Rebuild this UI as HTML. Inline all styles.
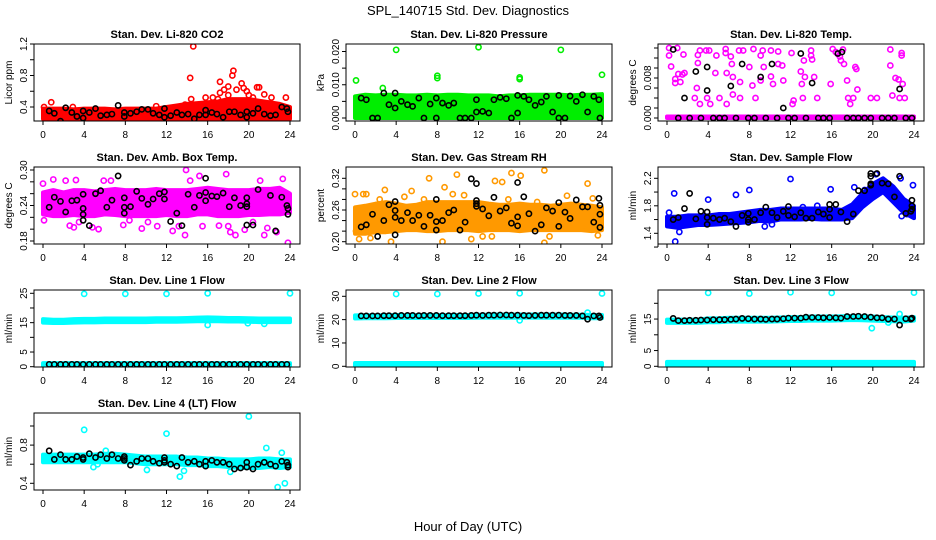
<!DOCTYPE html>
<html><head><meta charset="utf-8">
<style>
body{margin:0;background:#fff;}
svg{display:block;font-family:"Liberation Sans",sans-serif;}
</style></head>
<body>
<svg id="chart" width="936" height="540" viewBox="0 0 936 540">
<rect x="0" y="0" width="936" height="540" fill="#fff"/>
<text x="468" y="15" text-anchor="middle" font-size="13">SPL_140715  Std. Dev. Diagnostics</text>
<text x="468" y="531" text-anchor="middle" font-size="13">Hour of Day (UTC)</text>
</svg>
<script>
// ---- data ----
const hours = [0,1,2,3,4,5,6,7,8,9,10,11,12,13,14,15,16,17,18,19,20,21,22,23,24];
const xTicks = [0,4,8,12,16,20,24];

const co2Lo = [0.25,0.25,0.25,0.25,0.25,0.25,0.25,0.25,0.25,0.25,0.25,0.25,0.25,0.25,0.25,0.25,0.25,0.25,0.25,0.25,0.25,0.25,0.25,0.25,0.25];
const co2Hi = [0.38,0.38,0.38,0.37,0.38,0.38,0.38,0.37,0.38,0.38,0.38,0.38,0.4,0.42,0.44,0.45,0.46,0.47,0.5,0.5,0.5,0.48,0.46,0.44,0.4];
const co2Pts = [[14.3,0.77],[14.6,1.17],[14.4,0.5],[15.8,0.52],[17.2,0.72],[17.2,0.58],[17.6,0.62],[18,0.66],[18.4,0.8],[18.5,0.86],[18.8,0.62],[19.3,0.7],[19.5,0.64],[20,0.55],[20.8,0.65],[21,0.65],[21.5,0.56],[22.2,0.52],[23.6,0.52],[0.8,0.46],[16.5,0.52],[19.8,0.6],[18,0.55],[17,0.5],[20.4,0.52],[0.1,0.4],[2.9,0.4],[7.9,0.2],[11,0.41],[13.8,0.43]];
const co2Black = [[0.6,0.35],[1.1,0.32],[1.7,0.22],[2.2,0.39],[2.8,0.33],[3.3,0.28],[3.9,0.35],[3.9,0.26],[4.5,0.33],[5.1,0.38],[5.6,0.29],[6.2,0.3],[6.7,0.31],[7.3,0.42],[7.9,0.33],[7.9,0.28],[8.5,0.32],[9.1,0.34],[9.6,0.37],[10.2,0.37],[10.7,0.32],[11.3,0.3],[11.8,0.38],[11.8,0.27],[12.4,0.29],[13,0.33],[13.5,0.3],[14.1,0.31],[14.7,0.25],[15.2,0.3],[15.8,0.36],[15.8,0.3],[16.4,0.33],[16.9,0.31],[17.5,0.27],[18.1,0.34],[18.6,0.34],[19.2,0.3],[19.8,0.34],[19.8,0.27],[20.4,0.32],[20.9,0.38],[21.5,0.31],[22.1,0.29],[22.6,0.3],[23.2,0.4],[23.7,0.38],[23.8,0.34]];

const presLo = [0,0,0,0,0,0,0,0,0,0,0,0,0,0,0,0,0,0,0,0,0,0,0,0,0];
const presHi = [0.0065,0.007,0.0068,0.007,0.007,0.0068,0.0068,0.007,0.0068,0.007,0.007,0.0068,0.0068,0.0068,0.0065,0.0068,0.0068,0.007,0.007,0.007,0.007,0.0068,0.007,0.007,0.0072];
const presPts = [[0.1,0.0113],[2.7,0.009],[4,0.0205],[8,0.0127],[8,0.012],[12,0.0213],[16,0.0122],[16,0.0117],[20,0.0205],[24,0.013]];
const presBlack = [[0.6,0.006],[1.1,0.0055],[1.7,0],[2.2,0],[2.8,0.0075],[3.3,0.004],[3.9,0.0075],[3.9,0.003],[4.5,0.005],[5.1,0.004],[5.6,0.0035],[6.2,0.006],[6.7,0],[7.3,0.0042],[7.9,0.006],[7.9,0],[8.5,0.0045],[9.1,0.0038],[9.6,0.0045],[10.2,0],[10.7,0],[11.3,0],[11.8,0.0055],[11.8,0.0018],[12.4,0.002],[13,0.0015],[13.5,0.0055],[14.1,0.0062],[14.7,0.0058],[15.2,0],[15.8,0.0068],[15.8,0.0015],[16.4,0.0065],[16.9,0.0055],[17.5,0.0038],[18.1,0.0048],[18.6,0.0065],[19.2,0.0018],[19.8,0.0068],[19.8,0],[20.4,0],[20.9,0.0066],[21.5,0.005],[22.1,0.007],[22.6,0.0018],[23.2,0.0065],[23.7,0.0055],[23.8,0]];

const tempLo = [0,0,0,0,0,0,0,0,0,0,0,0,0,0,0,0,0,0,0,0,0,0,0,0,0];
const tempHi = [0.0003,0.0003,0.0003,0.0003,0.0003,0.0003,0.0003,0.0003,0.0003,0.0003,0.0003,0.0003,0.0003,0.0003,0.0003,0.0003,0.0003,0.0003,0.0003,0.0003,0.0003,0.0003,0.0003,0.0003,0.0003];
const tempPts = [[0.2,0.014],[0.2,0.0125],[0.4,0.0103],[0.8,0.0078],[0.8,0.007],[1,0.014],[1.1,0.0088],[1.3,0.0072],[1.5,0.0087],[1.6,0.0127],[1.7,0.009],[2.7,0.004],[2.9,0.006],[3,0.0126],[3,0.011],[3.2,0.0135],[3.2,0.0028],[3.8,0.0135],[3.9,0.004],[4.1,0.0135],[4.2,0.0028],[4.8,0.0125],[4.7,0.009],[5.1,0.004],[5.7,0.0138],[5.7,0.013],[5.8,0.009],[5.8,0.0028],[6.2,0.0123],[6.3,0.0108],[6.4,0.0082],[6.4,0.0047],[7,0.0135],[7.1,0.0072],[7.1,0.004],[7.4,0.0135],[8,0.0102],[8.3,0.0065],[8.4,0.0138],[8.6,0.004],[9.1,0.0125],[9.1,0.0075],[9.3,0.0135],[9.4,0.0102],[10.1,0.0135],[10.1,0.0083],[10.3,0.0068],[10.8,0.0133],[10.8,0.0108],[11.2,0.0105],[11.3,0.0075],[12.1,0.013],[12.3,0.0035],[12.2,0.0028],[13,0.0093],[13.1,0.0068],[13.2,0.004],[13.3,0.0115],[13.4,0.0082],[14,0.0135],[14,0.0125],[14.1,0.0117],[14.3,0.0082],[14.6,0.004],[15.9,0.0068],[16.1,0.0138],[16.4,0.0132],[16.6,0.0128],[16.8,0.0123],[16.9,0.0115],[17.1,0.0137],[17.2,0.0108],[17.5,0.0075],[17.6,0.004],[17.8,0.0028],[18.1,0.004],[18.3,0.0102],[18.4,0.0098],[18.5,0.0057],[19.8,0.004],[20.4,0.004],[21.7,0.0137],[21.7,0.0105],[21.9,0.0045],[22.2,0.008],[22.5,0.0077],[22.6,0.004],[22.8,0.013],[22.8,0.0125],[22.9,0.0068],[23.1,0.004]];
const tempBlack = [[0.6,0.0137],[1.7,0.004],[2.8,0.0093],[3.9,0.0102],[3.9,0.0055],[6.2,0.0064],[7.3,0.0108],[9.1,0.0082],[10.2,0.0108],[11.3,0.002],[13,0.0129],[14.1,0.007],[16.6,0.0129],[17,0.0132],[22.6,0.0058],[1.1,0],[2.2,0],[3.3,0],[4.5,0],[5.1,0],[5.6,0],[6.7,0],[7.9,0],[8.5,0],[9.6,0],[10.7,0],[11.8,0],[12.4,0],[13.5,0],[14.7,0],[15.2,0],[15.8,0],[17.5,0],[18.1,0],[18.6,0],[19.2,0],[19.8,0],[20.9,0],[21.5,0],[22.1,0],[23.2,0],[23.8,0]];

const ambLo = [0.225,0.222,0.222,0.224,0.222,0.222,0.225,0.224,0.222,0.222,0.222,0.222,0.224,0.222,0.222,0.225,0.225,0.222,0.222,0.222,0.224,0.224,0.225,0.225,0.228];
const ambHi = [0.262,0.266,0.262,0.266,0.266,0.264,0.266,0.268,0.266,0.266,0.266,0.268,0.266,0.266,0.266,0.268,0.27,0.268,0.266,0.266,0.266,0.268,0.268,0.27,0.26];
const ambPts = [[0,0.277],[0.1,0.215],[1,0.284],[2.2,0.282],[2.6,0.206],[3,0.203],[3.2,0.283],[3.5,0.212],[5.4,0.2],[5.9,0.282],[6.6,0.282],[7.8,0.207],[9.6,0.201],[10.2,0.212],[11.1,0.205],[12.6,0.197],[13.2,0.205],[13.8,0.19],[13.9,0.3],[14.3,0.282],[15.2,0.29],[15.5,0.205],[17.1,0.206],[17.8,0.293],[18,0.205],[18.2,0.195],[18.7,0.19],[19.6,0.199],[20.4,0.212],[21.1,0.282],[21.5,0.19],[21.8,0.202],[22.7,0.195],[23.3,0.285],[23.8,0.177],[8.4,0.215],[4.8,0.203]];
const ambBlack = [[0.6,0.237],[1.1,0.254],[1.7,0.247],[2.2,0.229],[2.8,0.248],[3.3,0.249],[3.9,0.259],[3.9,0.235],[3.9,0.225],[3.9,0.215],[4.5,0.206],[5.1,0.26],[5.6,0.265],[6.2,0.237],[6.7,0.249],[7.3,0.29],[7.9,0.253],[7.9,0.237],[7.9,0.227],[8.5,0.238],[9.1,0.264],[9.6,0.252],[10.2,0.242],[10.7,0.251],[11.3,0.26],[11.8,0.263],[11.8,0.251],[12.4,0.213],[13,0.227],[13.5,0.206],[14.1,0.259],[14.7,0.237],[15.2,0.257],[15.8,0.286],[15.8,0.262],[15.8,0.248],[16.4,0.256],[16.9,0.255],[17.5,0.261],[18.1,0.238],[18.6,0.253],[19.2,0.24],[19.8,0.253],[19.8,0.243],[19.8,0.238],[19.8,0.207],[20.4,0.207],[20.9,0.267],[22.1,0.257],[22.6,0.197],[23.2,0.254],[23.7,0.24],[23.8,0.235],[23.8,0.225]];

const rhLo = [0.215,0.215,0.218,0.218,0.22,0.222,0.222,0.22,0.22,0.222,0.222,0.222,0.22,0.222,0.222,0.222,0.22,0.222,0.222,0.222,0.222,0.222,0.222,0.22,0.222];
const rhHi = [0.265,0.268,0.272,0.275,0.272,0.268,0.27,0.275,0.275,0.275,0.275,0.275,0.275,0.272,0.27,0.27,0.272,0.27,0.27,0.268,0.27,0.272,0.27,0.268,0.265];
const rhPts = [[0,0.29],[0.1,0.22],[0.4,0.205],[0.8,0.29],[1.1,0.29],[1.5,0.207],[2.4,0.28],[2.9,0.298],[3.5,0.2],[4.8,0.285],[5.5,0.296],[6.7,0.28],[7.2,0.32],[8.5,0.2],[8.7,0.303],[9.5,0.29],[9.9,0.327],[10.6,0.288],[11.3,0.205],[12.4,0.21],[13.3,0.21],[13.6,0.315],[14.3,0.313],[14.9,0.28],[15.2,0.33],[16.1,0.325],[17.7,0.275],[18.4,0.198],[18.4,0.335],[18.9,0.21],[20.6,0.287],[22.6,0.31],[23.1,0.282],[23.6,0.212]];
const rhBlack = [[0.6,0.228],[1.1,0.232],[1.7,0.252],[2.2,0.21],[2.8,0.24],[3.3,0.27],[3.9,0.276],[3.9,0.259],[3.9,0.246],[3.9,0.213],[4.5,0.24],[5.1,0.255],[5.6,0.24],[6.2,0.25],[6.7,0.229],[7.3,0.25],[7.9,0.28],[7.9,0.238],[7.9,0.222],[8.5,0.24],[9.1,0.255],[9.6,0.26],[10.2,0.222],[10.7,0.237],[11.3,0.319],[11.8,0.31],[11.8,0.278],[11.8,0.272],[11.8,0.267],[12.4,0.262],[13,0.249],[13.5,0.284],[14.1,0.258],[14.7,0.264],[15.2,0.235],[15.8,0.312],[15.8,0.247],[15.8,0.23],[16.4,0.285],[16.9,0.253],[17.5,0.22],[18.1,0.232],[18.6,0.264],[19.2,0.258],[19.8,0.274],[19.8,0.229],[20.4,0.256],[20.9,0.244],[21.5,0.279],[22.1,0.266],[22.6,0.266],[23.2,0.237],[23.7,0.282],[23.8,0.269],[23.8,0.252],[23.8,0.227]];

const flowLo = [1.5,1.48,1.5,1.52,1.52,1.53,1.54,1.55,1.56,1.58,1.57,1.6,1.6,1.6,1.61,1.6,1.6,1.6,1.62,1.78,1.9,2.0,1.85,1.7,1.62];
const flowHi = [1.64,1.64,1.66,1.66,1.66,1.68,1.68,1.7,1.72,1.74,1.74,1.76,1.76,1.76,1.76,1.76,1.76,1.74,1.82,1.98,2.12,2.2,2.08,1.9,1.8];
const flowPts = [[0.2,1.7],[0.7,1.98],[0.8,1.28],[1.2,1.42],[4,1.89],[6.7,1.96],[8,2.03],[9.5,1.5],[12,2.19],[15.9,2.04],[18.2,2.07],[19.2,2.03],[20.3,2.26],[22.7,2.2],[23.9,2.1],[22.8,1.65],[23.3,1.68],[10.2,1.53],[13.2,1.78],[14.6,1.8]];
const flowBlack = [[0.6,1.6],[1.1,1.63],[1.7,1.76],[2.2,1.98],[2.8,1.61],[3.3,1.72],[3.9,1.71],[3.9,1.63],[3.9,1.53],[4.5,1.62],[5.1,1.6],[5.6,1.62],[6.2,1.57],[6.7,1.5],[7.3,1.66],[7.9,1.69],[7.9,1.6],[7.9,1.56],[8.5,1.6],[9.1,1.7],[9.6,1.78],[10.2,1.7],[10.7,1.63],[11.3,1.72],[11.8,1.79],[11.8,1.66],[12.4,1.64],[13,1.7],[13.5,1.62],[14.1,1.62],[14.7,1.71],[15.2,1.68],[15.8,1.82],[15.8,1.75],[15.8,1.63],[16.4,1.82],[16.9,1.71],[17.5,1.57],[18.1,1.68],[18.6,2.02],[19.2,2.02],[19.8,2.27],[19.8,2.23],[19.8,2.12],[19.8,2.1],[20.4,2.27],[20.9,2.13],[21.5,2.12],[22.1,1.93],[22.6,2.23],[23.2,1.69],[23.7,1.72],[23.8,1.88],[23.8,1.8],[23.8,1.75]];

const l1Lo = [15.0,14.9,14.9,15.0,15.1,15.1,15.2,15.2,15.2,15.2,15.2,15.3,15.3,15.3,15.4,15.5,15.5,15.5,15.4,15.4,15.3,15.2,15.2,15.2,15.2];
const l1Hi = [16.2,16.0,16.0,16.2,16.3,16.3,16.4,16.4,16.4,16.4,16.4,16.5,16.5,16.5,16.6,16.7,16.8,16.7,16.6,16.6,16.5,16.4,16.4,16.4,16.4];
const l1BaseLo = [0.3,0.3,0.3,0.3,0.3,0.3,0.3,0.3,0.3,0.3,0.3,0.3,0.3,0.3,0.3,0.3,0.3,0.3,0.3,0.3,0.3,0.3,0.3,0.3,0.3];
const l1BaseHi = [1.2,1.2,1.2,1.2,1.2,1.2,1.2,1.2,1.2,1.2,1.2,1.2,1.2,1.2,1.2,1.2,1.2,1.2,1.2,1.2,1.2,1.2,1.2,1.2,1.2];
const l1Pts = [[4,24.8],[8,24.8],[12,24.8],[16,25],[24,25],[16,14.2],[19.9,14.8],[21.5,14.6]];
const l1Black = [[0.6,0.8],[1.1,0.8],[1.7,0.8],[2.2,0.8],[2.8,0.8],[3.3,0.8],[3.9,0.8],[4.5,0.8],[5.1,0.8],[5.6,0.8],[6.2,0.8],[6.7,0.8],[7.3,0.8],[7.9,0.8],[8.5,0.8],[9.1,0.8],[9.6,0.8],[10.2,0.8],[10.7,0.8],[11.3,0.8],[11.8,0.8],[12.4,0.8],[13,0.8],[13.5,0.8],[14.1,0.8],[14.7,0.8],[15.2,0.8],[15.8,0.8],[16.4,0.8],[16.9,0.8],[17.5,0.8],[18.1,0.8],[18.6,0.8],[19.2,0.8],[19.8,0.8],[20.4,0.8],[20.9,0.8],[21.5,0.8],[22.1,0.8],[22.6,0.8],[23.2,0.8],[23.7,0.8]];

const l2Lo = [20.5,20.6,20.6,20.6,20.7,20.7,20.7,20.7,20.7,20.7,20.7,20.7,20.8,20.8,20.8,20.8,20.8,20.8,20.8,20.8,20.8,20.8,20.8,20.6,20.6];
const l2Hi = [21.8,21.9,21.9,21.9,22.0,22.0,22.0,22.0,22.0,22.0,22.0,22.0,22.1,22.1,22.2,22.2,22.2,22.2,22.2,22.2,22.2,22.1,22.1,22.0,22.0];
const l2BaseLo = [0.2,0.2,0.2,0.2,0.2,0.2,0.2,0.2,0.2,0.2,0.2,0.2,0.2,0.2,0.2,0.2,0.2,0.2,0.2,0.2,0.2,0.2,0.2,0.2,0.2];
const l2BaseHi = [1.4,1.4,1.4,1.4,1.4,1.4,1.4,1.4,1.4,1.4,1.4,1.4,1.4,1.4,1.4,1.4,1.4,1.4,1.4,1.4,1.4,1.4,1.4,1.4,1.4];
const l2Pts = [[4,31],[8,31],[12,31.2],[16,31.3],[24,31.2],[16,19.7],[22.6,23]];
const l2Black = [[0.6,21.6],[1.1,21.6],[1.7,21.6],[2.2,21.6],[2.8,21.7],[3.3,21.7],[3.9,21.7],[4.5,21.8],[5.1,21.8],[5.6,21.8],[6.2,21.7],[6.7,21.8],[7.3,21.8],[7.9,21.8],[8.5,21.7],[9.1,21.7],[9.6,21.7],[10.2,21.7],[10.7,21.7],[11.3,21.8],[11.8,21.9],[12.4,21.8],[13,21.9],[13.5,21.9],[14.1,22.0],[14.7,22.0],[15.2,21.9],[15.8,21.9],[16.4,21.8],[16.9,21.7],[17.5,21.8],[18.1,21.9],[18.6,21.9],[19.2,21.9],[19.8,21.9],[20.4,21.8],[20.9,21.8],[21.5,21.8],[22.1,21.6],[22.6,20.2],[23.2,21.6],[23.7,21.6],[23.8,20.9]];

const l3Lo = [13.8,13.8,13.8,13.8,14.0,14.0,14.2,14.2,14.2,14.2,14.2,14.3,14.4,14.4,14.5,14.5,14.5,14.6,14.7,14.6,14.5,14.4,14.3,14.2,14.5];
const l3Hi = [14.8,14.8,14.8,14.8,15.2,15.2,15.4,15.4,15.4,15.4,15.4,15.5,15.6,15.6,15.8,15.8,15.8,15.9,16.0,15.9,15.8,15.6,15.5,15.4,15.6];
const l3BaseLo = [0.3,0.3,0.3,0.3,0.3,0.3,0.3,0.3,0.3,0.3,0.3,0.3,0.3,0.3,0.3,0.3,0.3,0.3,0.3,0.3,0.3,0.3,0.3,0.3,0.3];
const l3BaseHi = [1.4,1.4,1.4,1.4,1.4,1.4,1.4,1.4,1.4,1.4,1.4,1.4,1.4,1.4,1.4,1.4,1.4,1.4,1.4,1.4,1.4,1.4,1.4,1.4,1.4];
const l3Pts = [[4,23.3],[8,23.1],[12,23.5],[16,23.3],[24,23.4],[19.9,12.1],[22.6,16.6],[21.5,13.9]];
const l3Black = [[0.6,15.2],[1.1,14.5],[1.7,14.5],[2.2,14.6],[2.8,14.6],[3.3,14.7],[3.9,14.7],[4.5,14.8],[5.1,14.8],[5.6,14.8],[6.2,14.9],[6.7,15.0],[7.3,15.2],[7.9,15.1],[8.5,15.0],[9.1,15.0],[9.6,14.9],[10.2,15.0],[10.7,15.0],[11.3,15.1],[11.8,15.3],[12.4,15.3],[13,15.3],[13.5,15.6],[14.1,15.5],[14.7,15.5],[15.2,15.4],[15.8,15.5],[16.4,15.4],[16.9,15.3],[17.5,15.8],[18.1,15.8],[18.6,15.9],[19.2,15.8],[19.8,15.6],[20.4,15.4],[20.9,15.4],[21.5,15.0],[22.1,15.0],[22.6,13.1],[23.2,15.1],[23.7,15.0],[23.8,15.3]];

const l4Lo = [0.62,0.62,0.62,0.62,0.62,0.62,0.62,0.62,0.62,0.61,0.6,0.6,0.6,0.6,0.59,0.59,0.58,0.58,0.57,0.56,0.56,0.56,0.57,0.56,0.57];
const l4Hi = [0.7,0.7,0.7,0.7,0.7,0.7,0.71,0.71,0.7,0.69,0.68,0.68,0.68,0.68,0.67,0.67,0.66,0.66,0.65,0.65,0.65,0.66,0.66,0.65,0.65];
const l4Pts = [[4,0.96],[5.3,0.6],[4.9,0.57],[10.1,0.54],[12,0.92],[13.3,0.47],[13.7,0.53],[18.2,0.52],[20,1.1],[21.7,0.77],[22.8,0.36],[23.2,0.72],[23.5,0.4],[6.1,0.74]];
const l4Black = [[0.6,0.74],[1.1,0.65],[1.7,0.7],[2.2,0.65],[2.8,0.65],[3.3,0.68],[3.9,0.67],[3.9,0.65],[4.5,0.71],[5.1,0.67],[5.6,0.7],[6.2,0.66],[6.7,0.7],[7.3,0.66],[7.9,0.68],[7.9,0.66],[7.9,0.64],[8.5,0.59],[9.1,0.63],[9.6,0.66],[10.2,0.66],[10.7,0.63],[11.3,0.61],[11.8,0.67],[11.8,0.64],[11.8,0.62],[12.4,0.6],[13,0.58],[13.5,0.67],[14.1,0.62],[14.7,0.63],[15.2,0.6],[15.8,0.63],[15.8,0.58],[16.4,0.64],[16.9,0.62],[17.5,0.62],[18.1,0.6],[18.6,0.55],[19.2,0.56],[19.8,0.62],[19.8,0.57],[20.4,0.55],[20.9,0.6],[21.5,0.62],[22.1,0.6],[22.6,0.58],[23.2,0.63],[23.7,0.62],[23.8,0.59],[23.8,0.57]];

// ---- drawing ----
const NS = 'http://www.w3.org/2000/svg';
const svg = document.getElementById('chart');
function mk(tag, attrs, parent){const e=document.createElementNS(NS,tag);for(const k in attrs)e.setAttribute(k,attrs[k]);(parent||svg).appendChild(e);return e;}

const panels = [
 {name:'co2',title:'Stan. Dev. Li-820 CO2',ylab:'Licor ppm',col:0,row:0,color:'#ff0000',v0:0.4,p0:107,v1:1.2,p1:44,ticks:[0.4,0.6,0.8,1.0,1.2],labels:[0.4,0.8,1.2],fmt:1,bands:[[co2Lo,co2Hi]],pts:co2Pts,blk:co2Black},
 {name:'pressure',title:'Stan. Dev. Li-820 Pressure',ylab:'kPa',col:1,row:0,color:'#00ee00',v0:0,p0:118,v1:0.02,p1:51.5,ticks:[0,0.005,0.01,0.015,0.02],labels:[0,0.01,0.02],fmt:3,bands:[[presLo,presHi]],pts:presPts,blk:presBlack},
 {name:'li820-temp',title:'Stan. Dev. Li-820 Temp.',ylab:'degrees C',col:2,row:0,color:'#ff00ff',v0:0,p0:118,v1:0.014,p1:48,ticks:[0,0.002,0.004,0.006,0.008,0.01,0.012,0.014],labels:[0,0.008],fmt:3,bands:[[tempLo,tempHi]],pts:tempPts,blk:tempBlack},
 {name:'amb-box-temp',title:'Stan. Dev. Amb. Box Temp.',ylab:'degrees C',col:0,row:1,color:'#ff00ff',v0:0.18,p0:241,v1:0.30,p1:170,ticks:[0.18,0.2,0.22,0.24,0.26,0.28,0.3],labels:[0.18,0.24,0.30],fmt:2,bands:[[ambLo,ambHi]],pts:ambPts,blk:ambBlack},
 {name:'gas-stream-rh',title:'Stan. Dev. Gas Stream RH',ylab:'percent',col:1,row:1,color:'#ff9900',v0:0.20,p0:241.7,v1:0.32,p1:178.3,ticks:[0.2,0.22,0.24,0.26,0.28,0.3,0.32],labels:[0.20,0.26,0.32],fmt:2,bands:[[rhLo,rhHi]],pts:rhPts,blk:rhBlack},
 {name:'sample-flow',title:'Stan. Dev. Sample Flow',ylab:'ml/min',col:2,row:1,color:'#0000ff',v0:1.4,p0:233.3,v1:2.2,p1:178.3,ticks:[1.2,1.4,1.6,1.8,2.0,2.2],labels:[1.4,1.8,2.2],fmt:1,bands:[[flowLo,flowHi]],pts:flowPts,blk:flowBlack},
 {name:'line1-flow',title:'Stan. Dev. Line 1 Flow',ylab:'ml/min',col:0,row:2,color:'#00ffff',v0:0,p0:366.7,v1:25,p1:293.3,ticks:[0,5,10,15,20,25],labels:[0,5,15,25],fmt:0,bands:[[l1Lo,l1Hi],[l1BaseLo,l1BaseHi]],pts:l1Pts,blk:l1Black},
 {name:'line2-flow',title:'Stan. Dev. Line 2 Flow',ylab:'ml/min',col:1,row:2,color:'#00ffff',v0:0,p0:366.3,v1:30,p1:296.3,ticks:[0,10,20,30],labels:[0,10,20,30],fmt:0,bands:[[l2Lo,l2Hi],[l2BaseLo,l2BaseHi]],pts:l2Pts,blk:l2Black},
 {name:'line3-flow',title:'Stan. Dev. Line 3 Flow',ylab:'ml/min',col:2,row:2,color:'#00ffff',v0:0,p0:366.3,v1:20,p1:303.3,ticks:[0,5,10,15,20],labels:[0,5,15],fmt:0,bands:[[l3Lo,l3Hi],[l3BaseLo,l3BaseHi]],pts:l3Pts,blk:l3Black},
 {name:'line4-flow',title:'Stan. Dev. Line 4 (LT) Flow',ylab:'ml/min',col:0,row:3,color:'#00ffff',v0:0.4,p0:483.3,v1:1.0,p1:426,ticks:[0.4,0.6,0.8,1.0],labels:[0.4,0.8],fmt:1,bands:[[l4Lo,l4Hi]],pts:l4Pts,blk:l4Black}
];

panels.forEach(p=>{
  const left=34+312*p.col, right=300+312*p.col, top=44+123*p.row, bottom=top+77;
  const x0=43+312*p.col, pxh=247/24;
  const sx=h=>x0+h*pxh;
  const sy=v=>p.p0+(v-p.v0)*(p.p1-p.p0)/(p.v1-p.v0);
  const g=mk('g',{});
  
  
  const cid='clip-'+p.name;
  const cp=mk('clipPath',{id:cid},g); mk('rect',{x:left,y:top,width:right-left,height:bottom-top},cp);
  const t=mk('text',{x:(left+right)/2,y:top-6,'text-anchor':'middle','font-size':'11','font-weight':'bold'},g);
  t.textContent=p.title;
  
  
  const yl=mk('text',{x:0,y:0,'text-anchor':'middle','font-size':'10',transform:`translate(${left-22},${(top+bottom)/2}) rotate(-90)`},g);
  yl.textContent=p.ylab;
  
  
  const data=mk('g',{'clip-path':`url(#${cid})`},g);
  p.bands.forEach(([lo,hi])=>{
    let d='';
    hours.forEach((h,i)=>{d+=(i?'L':'M')+sx(h)+','+sy(hi[i]);});
    for(let i=hours.length-1;i>=0;i--) d+='L'+sx(hours[i])+','+sy(lo[i]);
    const b=mk('path',{d:d+'Z',fill:p.color,stroke:p.color,'stroke-width':4,'stroke-linejoin':'round'},data);
    
    
  });
  p.pts.forEach(([h,v])=>{
    const c=mk('circle',{cx:sx(h),cy:sy(v),r:2.6,fill:'none',stroke:p.color,'stroke-width':1.6},data);
    
    
  });
  p.blk.forEach(([h,v])=>{
    const c=mk('circle',{cx:sx(h),cy:sy(v),r:2.6,fill:'none',stroke:'#000','stroke-width':1.6},data);
    
    
  });
  mk('rect',{x:left,y:top,width:right-left,height:bottom-top,fill:'none',stroke:'#000','stroke-width':1},g);
  mk('line',{x1:sx(0),y1:bottom,x2:sx(24),y2:bottom,stroke:'#000'},g);
  xTicks.forEach(h=>{
    mk('line',{x1:sx(h),y1:bottom,x2:sx(h),y2:bottom+4,stroke:'#000'},g);
    const tl=mk('text',{x:sx(h),y:bottom+17,'text-anchor':'middle','font-size':'10'},g);
    tl.textContent=h;
    
    
  });
  const tv=p.ticks;
  mk('line',{x1:left,y1:sy(tv[0]),x2:left,y2:sy(tv[tv.length-1]),stroke:'#000'},g);
  tv.forEach(v=>{mk('line',{x1:left-4,y1:sy(v),x2:left,y2:sy(v),stroke:'#000'},g);});
  p.labels.forEach(v=>{
    const l=mk('text',{x:0,y:0,'text-anchor':'middle','font-size':'10',transform:`translate(${left-7},${sy(v)}) rotate(-90)`},g);
    l.textContent=v.toFixed(p.fmt);
    
    
  });
});
</script>
</body></html>
